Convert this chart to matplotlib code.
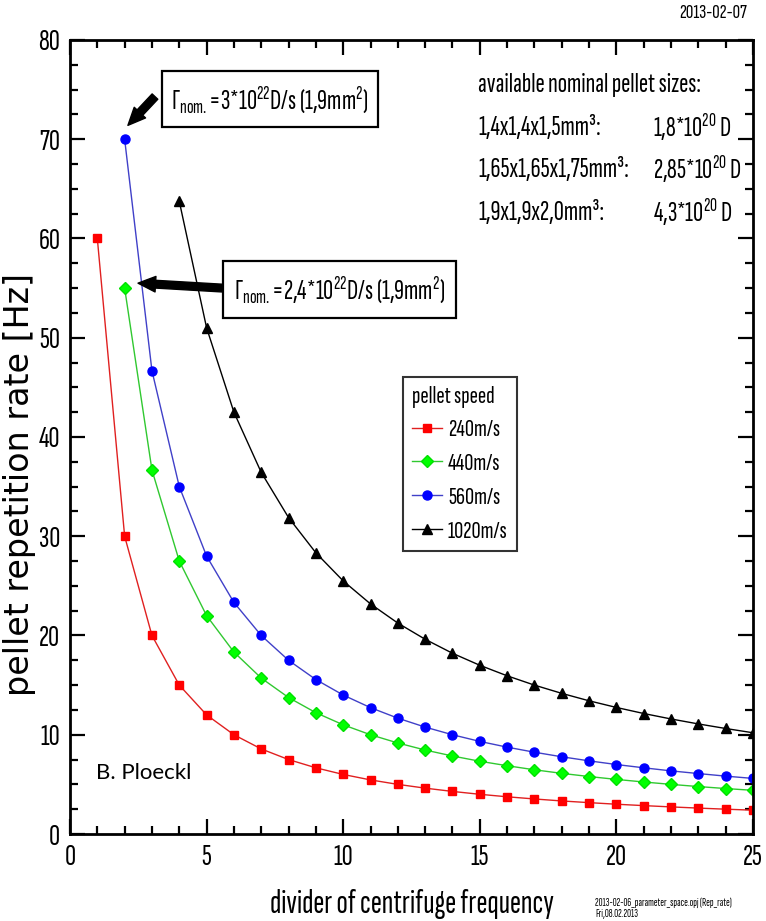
# -*- coding: utf-8 -*-

import matplotlib
matplotlib.use('Agg')
import matplotlib.pyplot as plt
from matplotlib.patches import Rectangle
from matplotlib.ticker import MultipleLocator

narrow = 'Sofia Sans Extra Condensed'
plt.rcParams['font.family'] = [narrow, 'DejaVu Sans']
plt.rcParams['mathtext.fontset'] = 'custom'
plt.rcParams['mathtext.rm'] = narrow
plt.rcParams['mathtext.it'] = narrow + ':italic'

# data
div_240 = list(range(1, 26))
rate_240 = [60, 30, 20, 15, 12, 10, 8.57, 7.5, 6.67, 6, 5.45, 5, 4.62, 4.29, 4,
            3.75, 3.53, 3.33, 3.16, 3, 2.86, 2.73, 2.61, 2.5, 2.4]
div_440 = list(range(2, 26))
rate_440 = [55, 36.67, 27.5, 22, 18.33, 15.71, 13.75, 12.22, 11, 10, 9.17, 8.46,
            7.86, 7.33, 6.88, 6.47, 6.11, 5.79, 5.5, 5.24, 5, 4.78, 4.58, 4.4]
div_560 = list(range(2, 26))
rate_560 = [70, 46.67, 35, 28, 23.33, 20, 17.5, 15.56, 14, 12.73, 11.67, 10.77,
            10, 9.33, 8.75, 8.24, 7.78, 7.37, 7, 6.67, 6.36, 6.09, 5.83, 5.6]
div_1020 = list(range(4, 26))
rate_1020 = [63.75, 51, 42.5, 36.43, 31.88, 28.33, 25.5, 23.18, 21.25, 19.62,
             18.21, 17, 15.94, 15, 14.17, 13.42, 12.75, 12.14, 11.59, 11.09,
             10.63, 10.2]

fig = plt.figure(figsize=(7.66, 9.21), dpi=100)
ax = fig.add_axes([70 / 766, 1 - 834 / 921, (753 - 70) / 766, (834 - 40) / 921])

ax.plot(div_240, rate_240, color='#e02020', lw=1.0, marker='s', ms=6,
        mfc='#ff0000', mec='#ff0000', label='240m/s')
ax.plot(div_440, rate_440, color='#30c830', lw=1.0, marker='D', ms=6,
        mfc='#00ff00', mec='#00e000', label='440m/s')
ax.plot(div_560, rate_560, color='#4040c8', lw=1.0, marker='o', ms=6.5,
        mfc='#0000ff', mec='#0000ff', label='560m/s')
ax.plot(div_1020, rate_1020, color='black', lw=1.0, marker='^', ms=6.5,
        mfc='black', mec='black', label='1020m/s')

ax.set_xlim(0, 25)
ax.set_ylim(0, 80)
ax.xaxis.set_major_locator(MultipleLocator(5))
ax.xaxis.set_minor_locator(MultipleLocator(1))
ax.yaxis.set_major_locator(MultipleLocator(10))
ax.yaxis.set_minor_locator(MultipleLocator(2.5))
ax.tick_params(which='both', direction='in', top=True, right=True,
               width=1.6, labelsize=22, color='black')
ax.tick_params(which='major', length=11, pad=7)
ax.tick_params(which='minor', length=6)
for s in ax.spines.values():
    s.set_linewidth(2.0)

# axis titles
fig.text(20 / 766, 1 - 484 / 921, 'pellet repetition rate [Hz]', rotation=90,
         ha='center', va='center', fontsize=24, family='DejaVu Sans')
fig.text(412 / 766, 1 - 904 / 921, 'divider of centrifuge frequency',
         ha='center', va='center', fontsize=24)

# legend
leg = ax.legend(title='pellet speed', loc='upper left',
                bbox_to_anchor=(403 / 766, 1 - 377 / 921),
                bbox_transform=fig.transFigure, fontsize=18, title_fontsize=18,
                frameon=True, fancybox=False, edgecolor='black',
                handlelength=1.2, handletextpad=0.25, labelspacing=0.45,
                borderpad=0.35, borderaxespad=0, alignment='left')
leg.get_frame().set_linewidth(1.5)

# annotation boxes with arrows
arrow_style = 'simple,head_length=0.9,head_width=0.8,tail_width=0.4'
ax.add_patch(Rectangle((3.37, 71.2), 11.28 - 3.37, 76.9 - 71.2, fill=False,
                       ec='black', lw=1.6))
ax.text(7.33, 74.0, r'$\Gamma_{\rm nom.}$=3*10$^{22}$D/s (1,9mm$^{2}$)',
        ha='center', va='center', fontsize=20)
ax.annotate('', xy=(2.12, 71.4), xytext=(3.11, 74.3),
            arrowprops=dict(arrowstyle=arrow_style, color='black',
                            mutation_scale=14, shrinkA=0, shrinkB=0))

ax.add_patch(Rectangle((5.6, 52.0), 14.14 - 5.6, 57.7 - 52.0, fill=False,
                       ec='black', lw=1.6))
ax.text(9.87, 54.8, r'$\Gamma_{\rm nom.}$=2,4*10$^{22}$D/s (1,9mm$^{2}$)',
        ha='center', va='center', fontsize=20)
ax.annotate('', xy=(2.49, 55.5), xytext=(5.6, 55.0),
            arrowprops=dict(arrowstyle=arrow_style, color='black',
                            mutation_scale=14, shrinkA=0, shrinkB=0))

# pellet sizes
sizes = ['1,4x1,4x1,5mm³:', '1,65x1,65x1,75mm³:', '1,9x1,9x2,0mm³:']
contents = [r'1,8*10$^{20}$ D', r'2,85*10$^{20}$ D', r'4,3*10$^{20}$ D']
fig.text(478 / 766, 1 - 85 / 921, 'available nominal pellet sizes:',
         ha='left', va='center', fontsize=20)
for i, (s, c) in enumerate(zip(sizes, contents)):
    yy = 1 - (127 + 42.5 * i) / 921
    fig.text(478 / 766, yy, s, ha='left', va='center', fontsize=20)
    fig.text(653 / 766, yy, c, ha='left', va='center', fontsize=20)

fig.text(96 / 766, 1 - 773 / 921, 'B. Ploeckl', ha='left', va='center',
         fontsize=16, family=['Lato', 'DejaVu Sans'])
fig.text(747 / 766, 1 - 13 / 921, '2013-02-07', ha='right', va='center',
         fontsize=15)
fig.text(595 / 766, 1 - 903 / 921, '2013-02-06_parameter_space.opj (Rep_rate)',
         ha='left', va='center', fontsize=8)
fig.text(595 / 766, 1 - 914 / 921, 'Fri,08.02.2013', ha='left', va='center',
         fontsize=8)

fig.savefig('out.png', dpi=100)
